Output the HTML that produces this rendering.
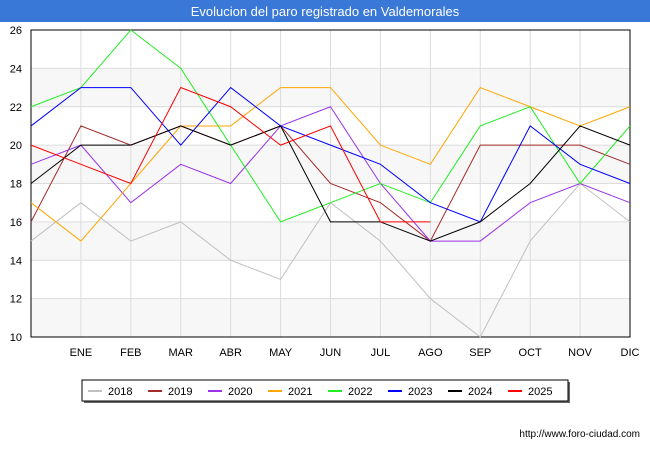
<!DOCTYPE html>
<html><head><meta charset="utf-8"><style>
body{margin:0;width:650px;height:450px;background:#fff;font-family:"Liberation Sans",sans-serif;overflow:hidden}
</style></head><body>
<svg width="650" height="450" id="svg" xmlns="http://www.w3.org/2000/svg">
<rect x="0" y="0" width="650" height="22" fill="#3a78d8"/>
<text x="325" y="16" text-anchor="middle" fill="#fff" font-size="13">Evolucion del paro registrado en Valdemorales</text>
<g id="plot"></g>
<text x="640" y="437" text-anchor="end" font-size="10" fill="#000">http://www.foro-ciudad.com</text>
</svg>
<script>
const months=["","ENE","FEB","MAR","ABR","MAY","JUN","JUL","AGO","SEP","OCT","NOV","DIC"];
const yTicks=[10,12,14,16,18,20,22,24,26];
const years=["2018","2019","2020","2021","2022","2023","2024","2025"];
const colors=["#c0c0c0","#a52a2a","#9932e8","#ffa500","#22ee22","#0000ff","#000000","#ff0000"];
const s2018=[15,17,15,16,14,13,17,15,12,10,15,18,16];
const s2019=[16,21,20,21,20,21,18,17,15,20,20,20,19];
const s2020=[19,20,17,19,18,21,22,18,15,15,17,18,17];
const s2021=[17,15,18,21,21,23,23,20,19,23,22,21,22];
const s2022=[22,23,26,24,20,16,17,18,17,21,22,18,21];
const s2023=[21,23,23,20,23,21,20,19,17,16,21,19,18];
const s2024=[18,20,20,21,20,21,16,16,15,16,18,21,20];
const s2025=[20,19,18,23,22,20,21,16,16];
const series=[s2018,s2019,s2020,s2021,s2022,s2023,s2024,s2025];
const NS="http://www.w3.org/2000/svg";
const g=document.getElementById("plot");
const X0=31,X1=630,Y0=30,Y1=337;
const xs=i=>X0+i*(X1-X0)/12;
const ys=v=>Y1-(v-10)*(Y1-Y0)/16;
function mk(t,a,txt){const e=document.createElementNS(NS,t);for(const k in a)e.setAttribute(k,a[k]);if(txt!==undefined)e.textContent=txt;g.appendChild(e);return e;}
for(let i=0;i<yTicks.length-1;i++){if(i%2===0){const b=mk("rect",{x:X0,y:ys(yTicks[i+1]),width:X1-X0,height:ys(yTicks[i])-ys(yTicks[i+1]),fill:"#f7f7f7"});

}}
yTicks.forEach(v=>{const l=mk("line",{x1:X0,x2:X1,y1:ys(v),y2:ys(v),stroke:"#dcdcdc"});


const t=mk("text",{x:22,y:ys(v)+4,"text-anchor":"end","font-size":"11",fill:"#000"},v);

});
months.forEach((m,i)=>{if(i>0){const l=mk("line",{x1:xs(i),x2:xs(i),y1:Y0,y2:Y1,stroke:"#dcdcdc"});


const t=mk("text",{x:xs(i),y:356,"text-anchor":"middle","font-size":"11",fill:"#000"},m);

}});
const fr=mk("rect",{x:X0,y:Y0,width:X1-X0,height:Y1-Y0,fill:"none",stroke:"#000","stroke-width":"1"});


series.forEach((s,k)=>{const p=mk("polyline",{points:s.map((v,i)=>xs(i)+","+ys(v)).join(" "),fill:"none",stroke:colors[k],"stroke-width":"1"});

});
const sh=mk("rect",{x:84,y:382,width:486,height:21,fill:"#666"});


const lb=mk("rect",{x:82,y:380,width:486,height:21,fill:"#fff",stroke:"#000"});


years.forEach((y,k)=>{const x=88+k*60;const l=mk("line",{x1:x,x2:x+14,y1:391,y2:391,stroke:colors[k],"stroke-width":"2"});


const t=mk("text",{x:x+20,y:395,"font-size":"11",fill:"#000"},y);

});
</script>
</body></html>
